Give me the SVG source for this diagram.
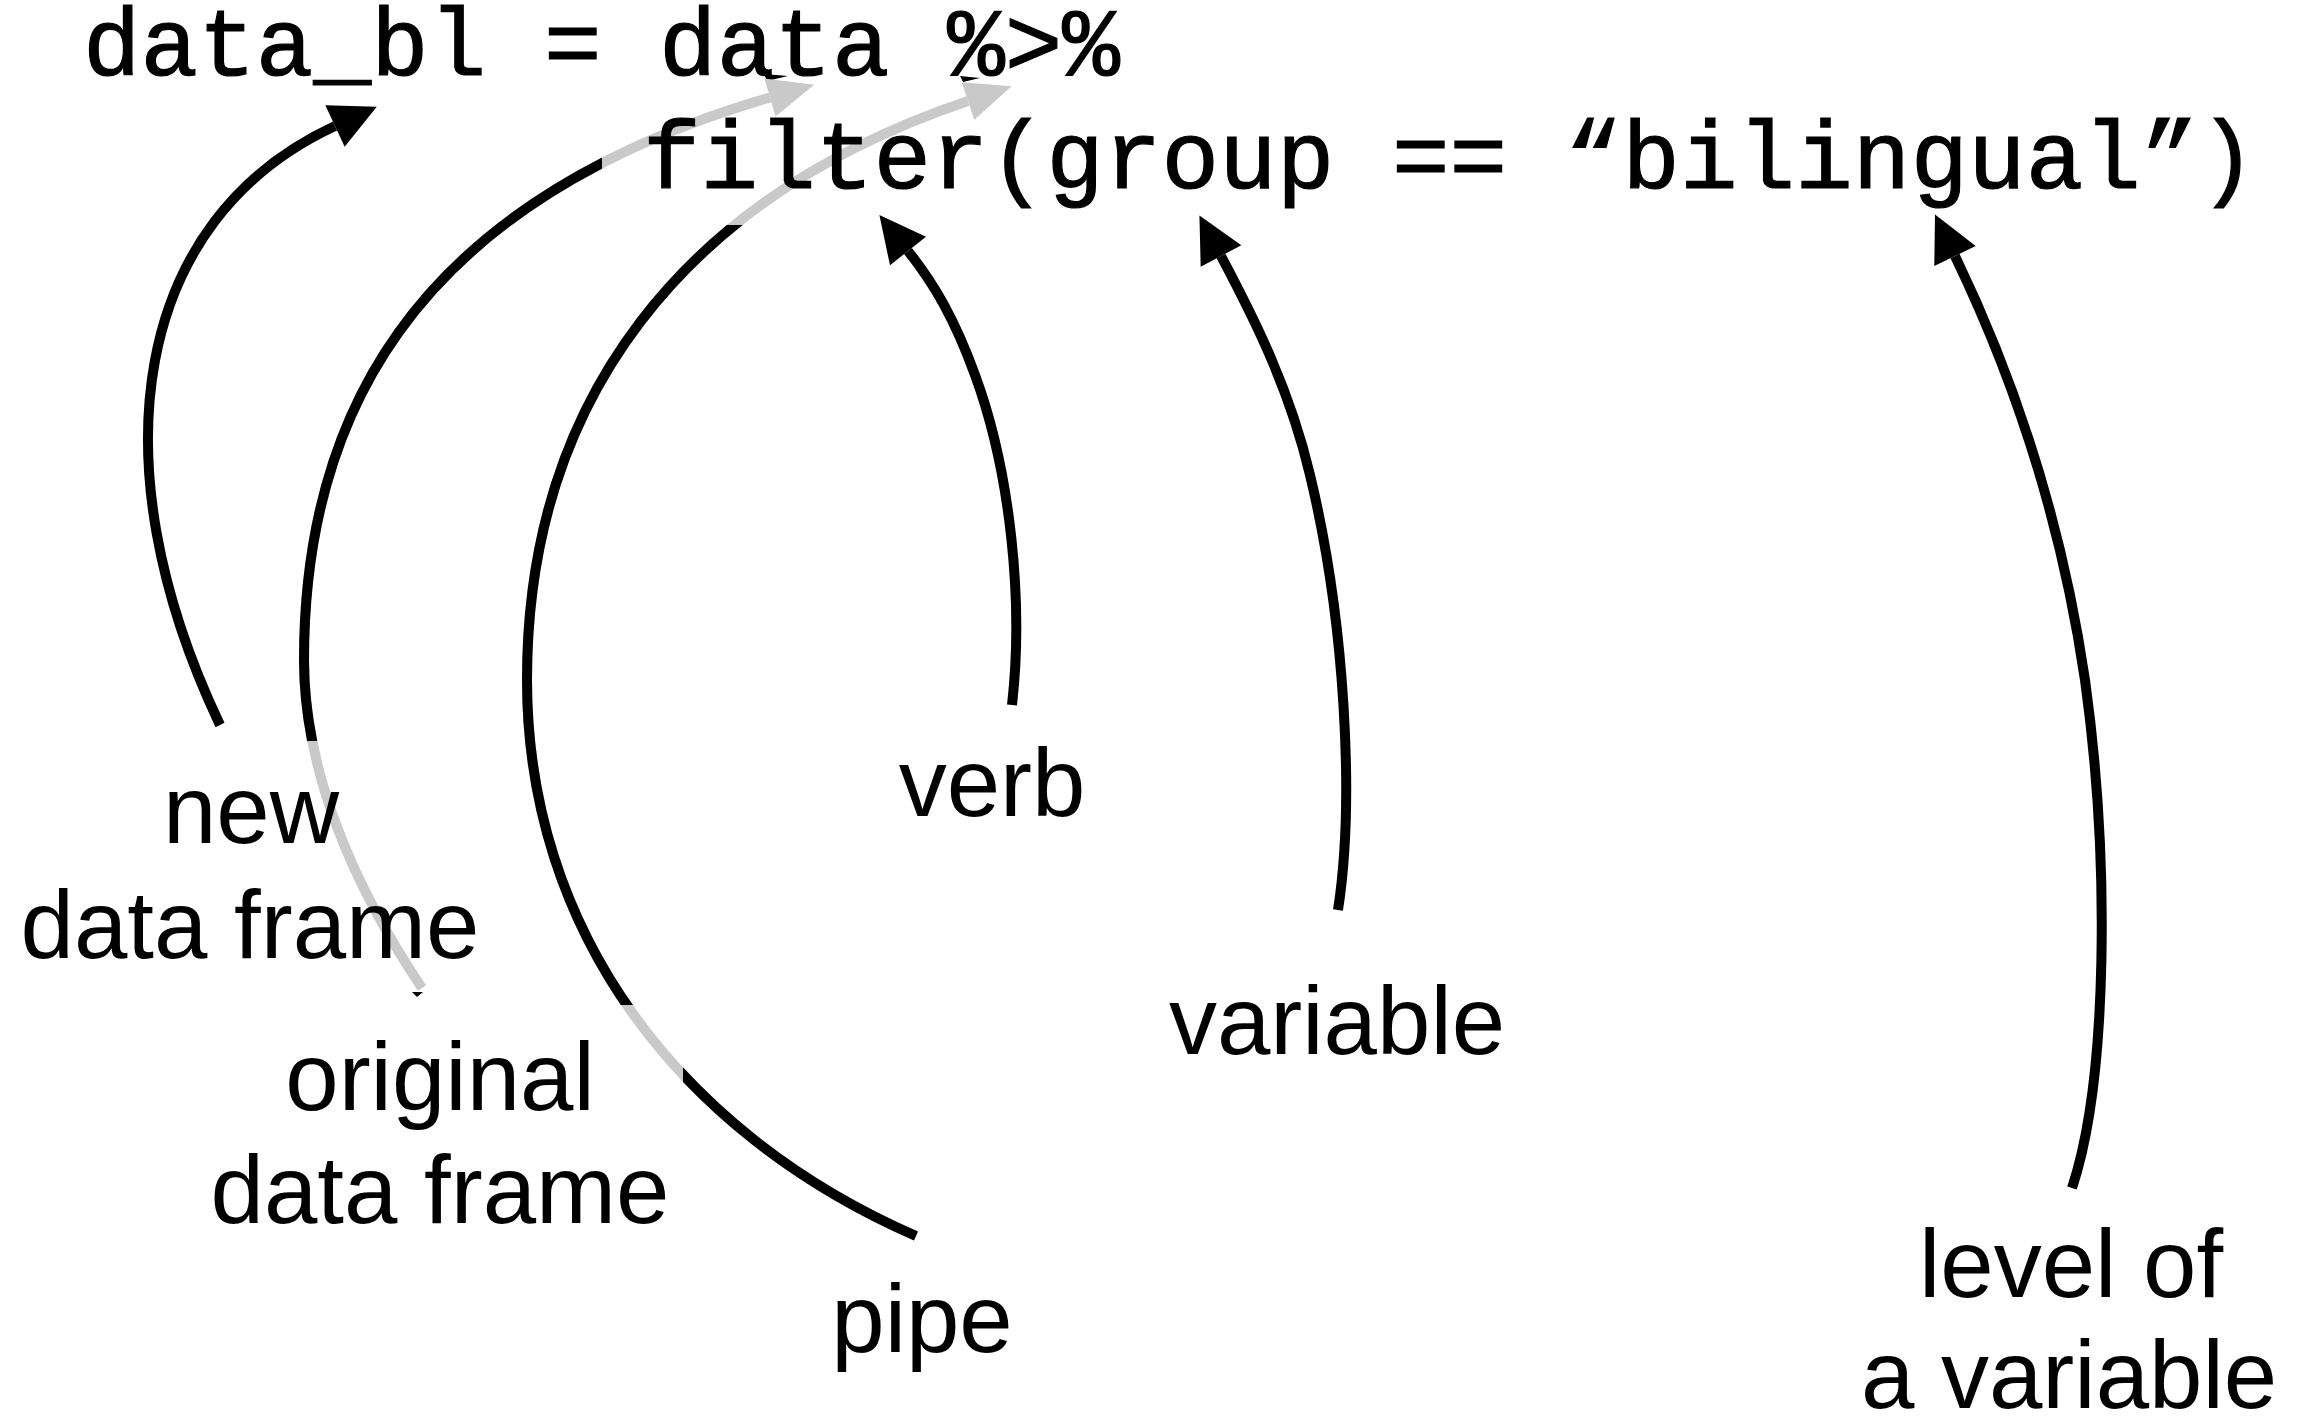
<svg xmlns="http://www.w3.org/2000/svg" width="2305" height="1417" viewBox="0 0 2305 1417">
  <style>
    .code { font-family: "Courier New", "Liberation Mono", monospace; font-size: 96px; fill: #000; stroke: #000; stroke-width: 1.2; }
    .lbl { font-family: "Liberation Sans", Arial, sans-serif; font-size: 96px; fill: #000; text-anchor: middle; }
    .blk { fill: none; stroke: #000; stroke-width: 10; }
    .gry { fill: none; stroke: #c9c9c9; stroke-width: 10; }
  </style>
  <defs>
    <marker id="ahB" markerUnits="userSpaceOnUse" markerWidth="46" markerHeight="46" viewBox="0 0 44 44" refX="0" refY="22" orient="auto" overflow="visible">
      <path d="M0,0 L44,22 L0,44 Z" fill="#000"/>
    </marker>
    <marker id="ahG" markerUnits="userSpaceOnUse" markerWidth="46" markerHeight="46" viewBox="0 0 44 44" refX="0" refY="22" orient="auto" overflow="visible">
      <path d="M0,3 L44,22 L0,41 Z" fill="#c9c9c9"/>
    </marker>
    <clipPath id="clipOrig">
      <rect x="0" y="0" width="602" height="741"/>
    </clipPath>
    <clipPath id="clipPipe">
      <rect x="0" y="225" width="2305" height="780"/>
      <rect x="683" y="1005" width="1622" height="412"/>
    </clipPath>
    <path id="pOrig" d="M422,988 C352,884 304,770 304,660 C304,430 400,205 770,97.5"/>
    <path id="pPipe" d="M916,1236 C678,1132 527,930 527,680 C527,400 683,197 968,101"/>
  </defs>
  <rect width="2305" height="1417" fill="#fff"/>

  <g id="connectors">
    <!-- new data frame -> data_bl -->
    <path id="c-new" class="blk" marker-end="url(#ahB)" d="M220,725 C94,460 134,219 335,126"/>
    <!-- original data frame -> data -->
    <g id="c-orig">
      <polygon points="764,74 788,76 767,81" fill="#000"/>
      <polygon points="412,992 423,992 417,997" fill="#000"/>
      <use href="#pOrig" class="gry" marker-end="url(#ahG)"/>
      <use href="#pOrig" class="blk" clip-path="url(#clipOrig)"/>
    </g>
    <!-- pipe -> %>% -->
    <g id="c-pipe">
      <polygon points="960,76 980,78 963,82" fill="#000"/>
      <use href="#pPipe" class="gry" marker-end="url(#ahG)"/>
      <use href="#pPipe" class="blk" clip-path="url(#clipPipe)"/>
    </g>
    <!-- verb -> filter -->
    <path id="c-verb" class="blk" marker-end="url(#ahB)" d="M1012,705 C1024,600 1010,470 975,375 C955,320 935,285 908,251"/>
    <!-- variable -> group -->
    <path id="c-var" class="blk" marker-end="url(#ahB)" d="M1338,910 C1355,800 1345,620 1310,475 C1290,390 1255,320 1221,256"/>
    <!-- level of a variable -> "bilingual" -->
    <path id="c-level" class="blk" marker-end="url(#ahB)" d="M2072,1188 C2108,1080 2110,860 2085,680 C2060,510 2010,370 1955,256"/>
  </g>

  <g id="code-line1"><text class="code" x="83" y="75" xml:space="preserve">data_bl = data %&gt;%</text></g>
  <g id="code-line2"><text class="code" x="643" y="188" xml:space="preserve">filter(group == “bilingual”)</text></g>

  <g id="label-new"><text class="lbl" x="251" y="843">new</text><text class="lbl" x="250" y="958">data frame</text></g>
  <g id="label-original"><text class="lbl" x="440" y="1110">original</text><text class="lbl" x="440" y="1223">data frame</text></g>
  <g id="label-verb"><text class="lbl" x="992" y="816">verb</text></g>
  <g id="label-pipe"><text class="lbl" x="922" y="1352">pipe</text></g>
  <g id="label-variable"><text class="lbl" x="1337" y="1054">variable</text></g>
  <g id="label-level"><text class="lbl" x="2071" y="1297">level of</text><text class="lbl" x="2069" y="1408">a variable</text></g>
</svg>
